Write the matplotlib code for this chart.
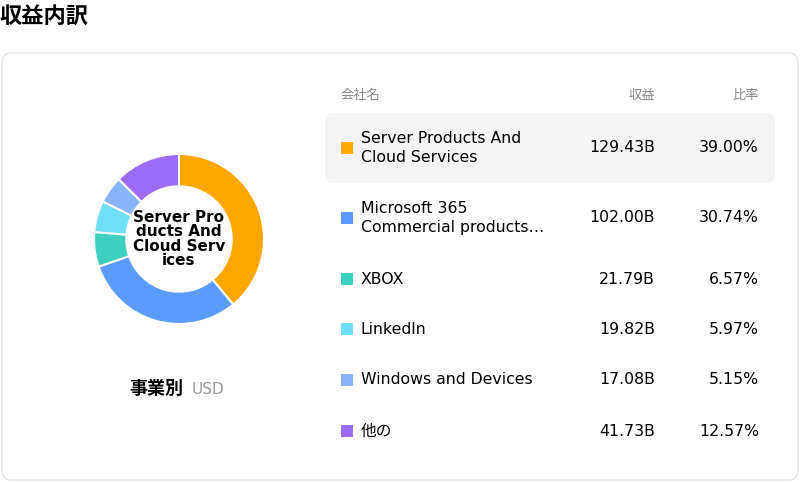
import matplotlib
matplotlib.use("Agg")
import matplotlib.pyplot as plt
from matplotlib.patches import FancyBboxPatch, Rectangle

plt.rcParams['font.family'] = ['DejaVu Sans', 'Noto Sans CJK JP']

names = ["Server Products And\nCloud Services", "Microsoft 365\nCommercial products…", "XBOX",
         "LinkedIn", "Windows and Devices", "他の"]
revenue_b = [129.43, 102.00, 21.79, 19.82, 17.08, 41.73]
shares = [39.00, 30.74, 6.57, 5.97, 5.15, 12.57]
colors = ["#FFA600", "#5B9BFD", "#3DCFBF", "#6FDFF7", "#8AB4F8", "#9B6CF6"]

W, H = 800, 482
fig = plt.figure(figsize=(8, 4.82), dpi=100)
ax = fig.add_axes([0, 0, 1, 1])
ax.set_xlim(0, W); ax.set_ylim(H, 0); ax.axis('off')

ax.text(0, 17, "収益内訳", fontsize=16, fontweight='bold', va='center', ha='left')
ax.add_patch(FancyBboxPatch((2, 53), 796, 427, boxstyle="round,pad=0,rounding_size=10",
                            fc='white', ec='#e2e2e8', lw=1))

# donut
cx, cy, r = 179, 239, 85
pax = fig.add_axes([(cx - r) / W, (H - cy - r) / H, 2 * r / W, 2 * r / H])
pax.pie(shares, colors=colors, startangle=90, counterclock=False, radius=1,
        wedgeprops=dict(width=0.38, edgecolor='white', linewidth=1.5))
pax.set_xlim(-1, 1); pax.set_ylim(-1, 1)
pax.set_aspect('equal')
pax.text(0, 0, "Server Pro\nducts And\nCloud Serv\nices", ha='center', va='center',
         fontsize=11, fontweight='bold', linespacing=0.95)

ax.text(183, 389, "事業別", fontsize=13, fontweight='bold', ha='right', va='center')
ax.text(192, 389, "USD", fontsize=11, color='#999999', ha='left', va='center')

# table
ax.text(341, 95, "会社名", fontsize=9.5, color='#888888', va='center')
ax.text(655, 95, "収益", fontsize=9.5, color='#888888', va='center', ha='right')
ax.text(759, 95, "比率", fontsize=9.5, color='#888888', va='center', ha='right')
ax.add_patch(FancyBboxPatch((325, 113), 450, 70, boxstyle="round,pad=0,rounding_size=8",
                            fc='#f4f4f4', ec='none'))
rows_y = [148, 218, 279, 329, 380, 431]
for y, n, v, s, c in zip(rows_y, names, revenue_b, shares, colors):
    ax.add_patch(Rectangle((341, y - 6), 12, 12, fc=c, ec='none'))
    ax.text(361, y, n, fontsize=11.3, va='center', ha='left', linespacing=1.35)
    ax.text(655, y, f"{v:.2f}B", fontsize=11.3, va='center', ha='right')
    ax.text(759, y, f"{s:.2f}%", fontsize=11.3, va='center', ha='right')

fig.savefig("out.png", dpi=100)
